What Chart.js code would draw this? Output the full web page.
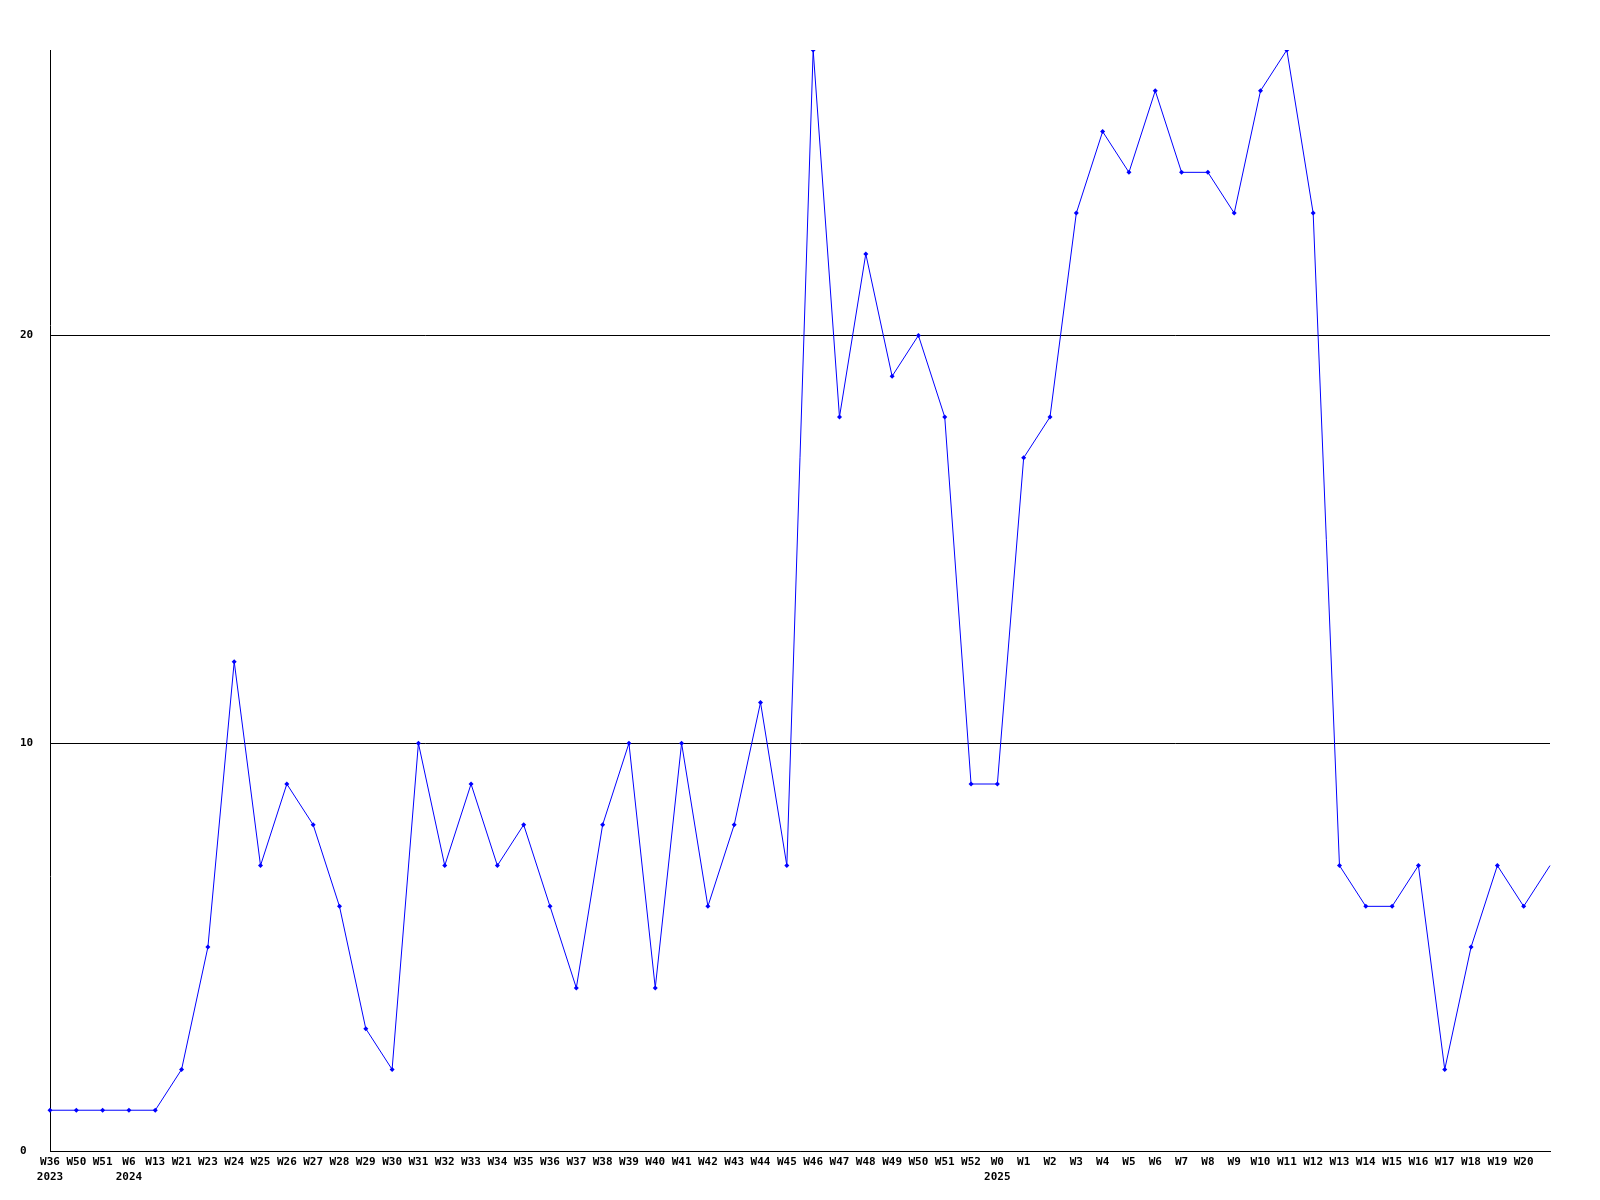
<!DOCTYPE html>
<html>
<head>
<meta charset="utf-8">
<script src="https://cdn.jsdelivr.net/npm/chart.js@4/dist/chart.umd.min.js"></script>
<style>
    html, body { margin: 0; padding: 0; background: #fff; }
    canvas { display: block; }
</style>
</head>
<body>
<canvas id="myChart" width="1600" height="1200"></canvas>
<script>
const weeks = ['W36', 'W50', 'W51', 'W6', 'W13', 'W21', 'W23', 'W24', 'W25', 'W26', 'W27', 'W28', 'W29', 'W30',
    'W31', 'W32', 'W33', 'W34', 'W35', 'W36', 'W37', 'W38', 'W39', 'W40', 'W41', 'W42', 'W43', 'W44', 'W45',
    'W46', 'W47', 'W48', 'W49', 'W50', 'W51', 'W52', 'W0', 'W1', 'W2', 'W3', 'W4', 'W5', 'W6', 'W7', 'W8',
    'W9', 'W10', 'W11', 'W12', 'W13', 'W14', 'W15', 'W16', 'W17', 'W18', 'W19', 'W20', ''];
const years = { 0: '2023', 3: '2024', 36: '2025' };
const counts = [1, 1, 1, 1, 1, 2, 5, 12, 7, 9, 8, 6, 3, 2,
    10, 7, 9, 7, 8, 6, 4, 8, 10, 4, 10, 6, 8, 11, 7,
    27, 18, 22, 19, 20, 18, 9, 9, 17, 18, 23, 25, 24, 26, 24, 24,
    23, 26, 27, 23, 7, 6, 6, 7, 2, 5, 7, 6, 7];
const yTicks = [0, 10, 20];

const labels = weeks.map((w, i) => years[i] ? [w, years[i]] : w);
const font = { family: 'DejaVu Sans Mono', size: 11, weight: 'bold', lineHeight: 1.35 };

function init() {
    const ctx = document.getElementById('myChart').getContext('2d');
    new Chart(ctx, {
        type: 'line',
        data: {
            labels: labels,
            datasets: [{
                data: counts,
                borderColor: '#0000ff',
                backgroundColor: '#0000ff',
                borderWidth: 1,
                tension: 0,
                pointStyle: 'rectRot',
                pointRadius: counts.map((v, i) => i === counts.length - 1 ? 0 : 2.5),
                pointBorderWidth: 0
            }]
        },
        options: {
            responsive: false,
            animation: false,
            layout: { padding: { left: 20, right: 50, top: 50, bottom: 0 } },
            plugins: { legend: { display: false }, tooltip: { enabled: false } },
            scales: {
                x: {
                    offset: false,
                    grid: { display: false, drawTicks: false },
                    border: { color: '#000', width: 1 },
                    ticks: { autoSkip: false, maxRotation: 0, minRotation: 0, padding: 4, color: '#000', font: font },
                    afterFit: s => { s.height = 49; }
                },
                y: {
                    min: 0,
                    max: 27,
                    afterBuildTicks: s => { s.ticks = yTicks.map(v => ({ value: v })); },
                    grid: { color: '#000', lineWidth: 1, drawTicks: false },
                    border: { color: '#000', width: 1 },
                    ticks: { crossAlign: 'far', padding: 0, color: '#000', font: font },
                    afterFit: s => { s.width = 30; }
                }
            }
        }
    });
}

window.addEventListener('DOMContentLoaded', init);
</script>
</body>
</html>
